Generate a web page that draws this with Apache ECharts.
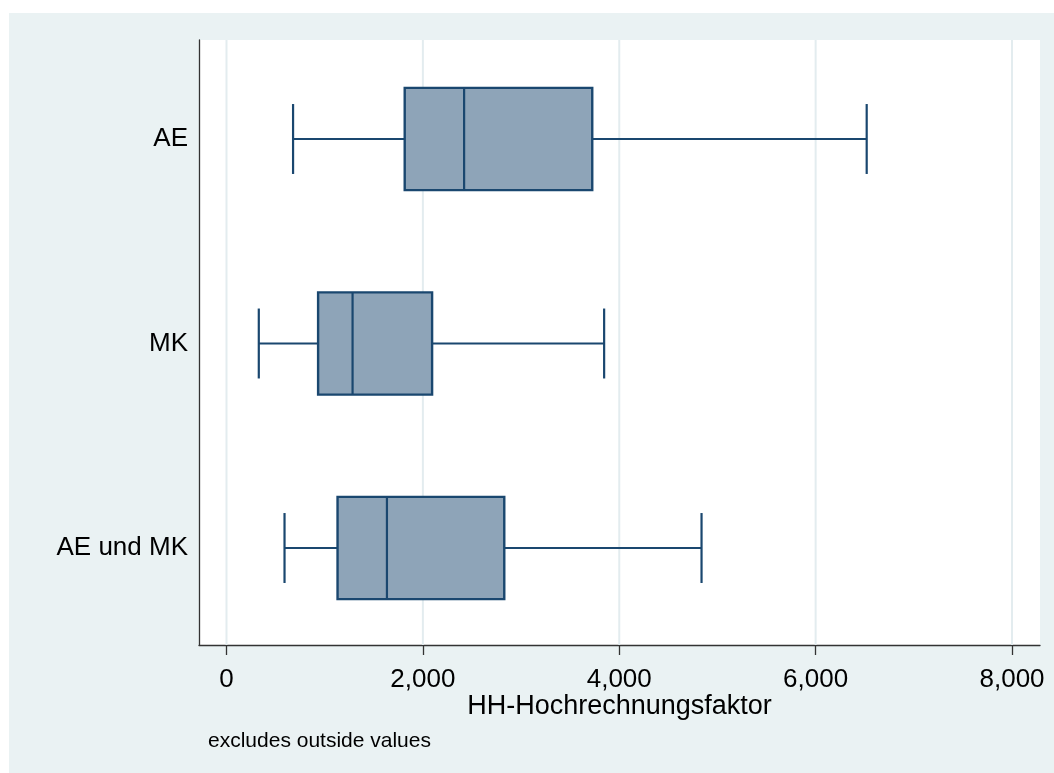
<!DOCTYPE html>
<html>
<head>
<meta charset="utf-8">
<script src="https://cdn.jsdelivr.net/npm/echarts@6/dist/echarts.min.js"></script>
<style>
html,body{margin:0;padding:0;background:#ffffff;}
#chart{width:1054px;height:773px;}
</style>
</head>
<body>
<div id="chart"></div>
<script>
// Data
const categories = ['AE', 'MK', 'AE und MK'];
const lowerWhisker = [678, 329, 591];
const q1 = [1815, 933, 1131];
const median = [2420, 1284, 1634];
const q3 = [3725, 2094, 2829];
const upperWhisker = [6520, 3846, 4838];
const xTicks = [0, 2000, 4000, 6000, 8000];
const xTitle = 'HH-Hochrechnungsfaktor';
const note = 'excludes outside values';

const FONT = 'Arial, "Liberation Sans", Helvetica, sans-serif';
const NAVY = '#1A476F';
const FILL = '#8EA4B8';

const boxData = categories.map((c, i) => [i, lowerWhisker[i], q1[i], median[i], q3[i], upperWhisker[i]]);

const chart = echarts.init(document.getElementById('chart'), null, {renderer: 'canvas'});

chart.setOption({
  backgroundColor: '#ffffff',
  animation: false,
  graphic: [{
    type: 'rect', z: -100, silent: true,
    shape: {x: 9, y: 13, width: 1045, height: 760},
    style: {fill: '#EAF2F3'}
  }],
  title: {
    text: note, left: 203, top: 726,
    textStyle: {fontFamily: FONT, fontSize: 21, fontWeight: 'normal', color: '#000'}
  },
  grid: {
    left: 199, right: 14, top: 40, bottom: 128,
    show: true, backgroundColor: '#ffffff', borderWidth: 0
  },
  xAxis: {
    type: 'value', min: -280, max: 8285,
    name: xTitle, nameLocation: 'middle', nameGap: 48, nameMoveOverlap: false,
    nameTextStyle: {fontFamily: FONT, fontSize: 27, color: '#000'},
    axisLine: {show: true, onZero: false, lineStyle: {color: '#333', width: 1.3}},
    axisTick: {show: true, customValues: xTicks, length: 10, lineStyle: {color: '#333', width: 1.3}},
    axisLabel: {
      customValues: xTicks, margin: 22, fontFamily: FONT, fontSize: 26, color: '#000',
      formatter: v => v.toLocaleString('en-US')
    },
    splitLine: {show: false}
  },
  yAxis: {
    type: 'value', inverse: true, min: -0.4841, max: 2.4743,
    axisLine: {show: true, onZero: false, lineStyle: {color: '#333', width: 1.3}},
    axisTick: {show: false},
    axisLabel: {
      customValues: [0, 1, 2], margin: 11, fontFamily: FONT, fontSize: 26, color: '#000',
      formatter: v => categories[Math.round(v)]
    },
    splitLine: {show: false}
  },
  series: [
    {
      type: 'custom', name: 'grid', z: 1, silent: true,
      data: xTicks.map(v => [v]),
      encode: {x: 0},
      renderItem: function (params, api) {
        const cs = params.coordSys;
        const x = api.coord([api.value(0), 0])[0];
        return {
          type: 'line',
          shape: {x1: x, y1: cs.y, x2: x, y2: cs.y + cs.height},
          style: {stroke: '#E3ECEF', lineWidth: 2}
        };
      }
    },
    {
      type: 'custom', name: 'box', z: 2,
      data: boxData,
      encode: {y: 0, x: [1, 2, 3, 4, 5]},
      renderItem: function (params, api) {
        const c = api.value(0);
        const pLow = api.coord([api.value(1), c]);
        const pQ1 = api.coord([api.value(2), c]);
        const pMed = api.coord([api.value(3), c]);
        const pQ3 = api.coord([api.value(4), c]);
        const pHigh = api.coord([api.value(5), c]);
        const unit = api.size([0, 1])[1];
        const hb = unit * 0.25;
        const hc = unit * 0.171;
        const y = pLow[1];
        const ls = {stroke: NAVY, lineWidth: 2.2, fill: null};
        return {
          type: 'group',
          children: [
            {type: 'line', shape: {x1: pLow[0], y1: y, x2: pQ1[0], y2: y}, style: ls},
            {type: 'line', shape: {x1: pQ3[0], y1: y, x2: pHigh[0], y2: y}, style: ls},
            {type: 'line', shape: {x1: pLow[0], y1: y - hc, x2: pLow[0], y2: y + hc}, style: ls},
            {type: 'line', shape: {x1: pHigh[0], y1: y - hc, x2: pHigh[0], y2: y + hc}, style: ls},
            {type: 'rect', shape: {x: pQ1[0], y: y - hb, width: pQ3[0] - pQ1[0], height: 2 * hb},
              style: {fill: FILL, stroke: NAVY, lineWidth: 2.4}},
            {type: 'line', shape: {x1: pMed[0], y1: y - hb, x2: pMed[0], y2: y + hb}, style: ls}
          ]
        };
      }
    }
  ]
});
</script>
</body>
</html>
